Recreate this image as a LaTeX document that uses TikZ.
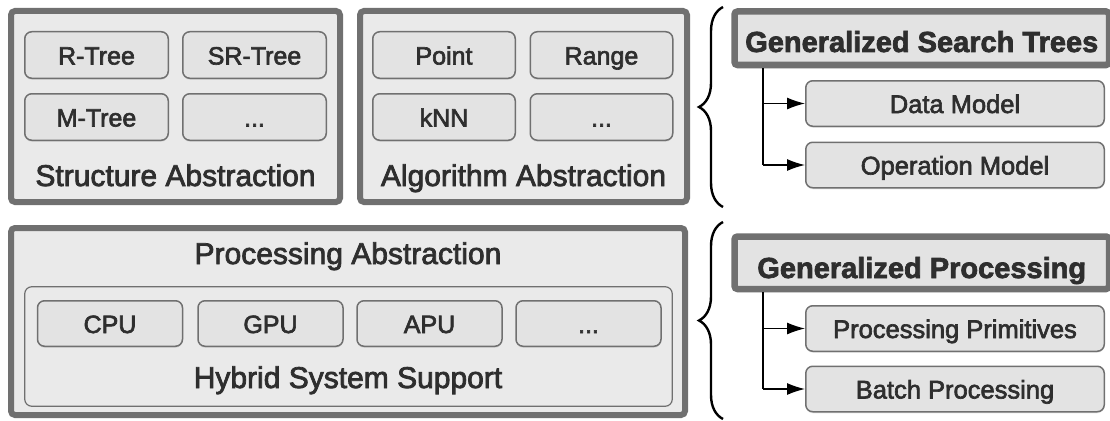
\documentclass[tikz,border=0pt]{standalone}
\usepackage{fontspec}
\setmainfont{Liberation Sans}[FakeBold=2.5]
\usetikzlibrary{arrows.meta,decorations.pathreplacing,shadows}

\definecolor{edge}{HTML}{707070}
\definecolor{panel}{HTML}{EAEAEA}
\definecolor{tile}{HTML}{E3E3E3}
\definecolor{ink}{HTML}{2E2E2E}

\tikzset{
  outerbox/.style={draw=edge, line width=6pt, rounded corners=4pt, fill=panel,
                   inner sep=0pt},
  headbox/.style={draw=edge, line width=6.5pt, rounded corners=3pt, fill=tile,
                  inner sep=0pt, text=ink, text depth=0pt,
                  drop shadow={opacity=0.3, shadow xshift=0pt, shadow yshift=-3pt},
                  font=\fontsize{29}{34}\selectfont\bfseries},
  panelbox/.style={draw=edge, line width=1.2pt, rounded corners=7pt, fill=panel,
                   inner sep=0pt},
  tilebox/.style={draw=edge, line width=1.5pt, rounded corners=7pt, fill=tile,
                  inner sep=0pt, text=ink, text height=19pt, text depth=0pt,
                  drop shadow={opacity=0.18, shadow xshift=0pt, shadow yshift=-1.5pt},
                  font=\fontsize{25}{30}\selectfont},
  subbox/.style={tilebox, font=\fontsize{25.5}{30}\selectfont},
  caption/.style={text=ink, inner sep=0pt, anchor=base, font=\fontsize{30}{36}\selectfont},
  conn/.style={line width=1.3pt, -{Latex[length=18pt,width=12pt]}},
  trunk/.style={line width=1.3pt},
  bracket/.style={line width=2.4pt, decorate, decoration={brace, amplitude=24pt}},
}

\begin{document}
\begin{tikzpicture}[x=1pt, y=-1pt]
\useasboundingbox (0,0) rectangle (1110,420);

% ---- structure abstraction ----
\node[outerbox, minimum width=329pt, minimum height=191pt] (sa) at (175.5,106.5) {};
\node[tilebox, minimum width=143.5pt, minimum height=46.5pt] (rtree)  at (96.5,55)  {R-Tree};
\node[tilebox, minimum width=143.5pt, minimum height=46.5pt] (srtree) at (254.5,55) {SR-Tree};
\node[tilebox, minimum width=143.5pt, minimum height=46.5pt] (mtree)  at (96.5,117) {M-Tree};
\node[tilebox, minimum width=143.5pt, minimum height=46.5pt] (sdots)  at (254.5,117) {...};
\node[caption] (salabel) at (175.5,186) {Structure Abstraction};

% ---- algorithm abstraction ----
\node[outerbox, minimum width=327pt, minimum height=191pt] (aa) at (523.5,106.5) {};
\node[tilebox, minimum width=142.5pt, minimum height=46.5pt] (point) at (444,55)    {Point};
\node[tilebox, minimum width=142.5pt, minimum height=46.5pt] (range) at (601.5,55)  {Range};
\node[tilebox, minimum width=142.5pt, minimum height=46.5pt] (knn)   at (444,117)   {kNN};
\node[tilebox, minimum width=142.5pt, minimum height=46.5pt] (adots) at (601.5,117) {...};
\node[caption] (aalabel) at (523.5,186) {Algorithm Abstraction};

% ---- processing abstraction ----
\node[outerbox, minimum width=674pt, minimum height=187pt] (pa) at (348,321.5) {};
\node[caption] (palabel) at (348,264) {Processing Abstraction};
\node[panelbox, minimum width=647.5pt, minimum height=119.5pt] (hss) at (348.5,346.5) {};
\node[tilebox, minimum width=145pt, minimum height=45.5pt] (cpu)   at (110,323.5)   {CPU};
\node[tilebox, minimum width=145pt, minimum height=45.5pt] (gpu)   at (270.5,323.5) {GPU};
\node[tilebox, minimum width=145pt, minimum height=45.5pt] (apu)   at (429.5,323.5) {APU};
\node[tilebox, minimum width=145pt, minimum height=45.5pt] (pdots) at (588.5,323.5) {...};
\node[caption] (hsslabel) at (348,388) {Hybrid System Support};

% ---- braces ----
\draw[bracket] (723,207) -- (723,7);
\draw[bracket] (723,419) -- (723,222);

% ---- generalized search trees ----
\node[headbox, minimum width=374.5pt, minimum height=53.5pt, text height=27.5pt]
  (gst) at (921.75,38.25) {Generalized Search Trees};
\node[subbox, minimum width=298.5pt, minimum height=45.5pt] (dm) at (955,103.5) {Data Model};
\node[subbox, minimum width=298.5pt, minimum height=45.5pt] (om) at (955,165)   {Operation Model};
\coordinate (t1) at (763,0);
\draw[trunk] (t1 |- gst.south) -- (t1 |- om.west);
\draw[conn] (t1 |- dm.west) -- (dm.west);
\draw[conn] (t1 |- om.west) -- (om.west);

% ---- generalized processing ----
\node[headbox, minimum width=374.5pt, minimum height=52.5pt, text height=30.5pt]
  (gp) at (921.75,262.75) {Generalized Processing};
\node[subbox, minimum width=298.5pt, minimum height=45.5pt] (pp) at (955,328.5) {Processing Primitives};
\node[subbox, minimum width=298.5pt, minimum height=45.5pt] (bp) at (955,389)   {Batch Processing};
\coordinate (t2) at (763,0);
\draw[trunk] (t2 |- gp.south) -- (t2 |- bp.west);
\draw[conn] (t2 |- pp.west) -- (pp.west);
\draw[conn] (t2 |- bp.west) -- (bp.west);
\end{tikzpicture}
\end{document}
